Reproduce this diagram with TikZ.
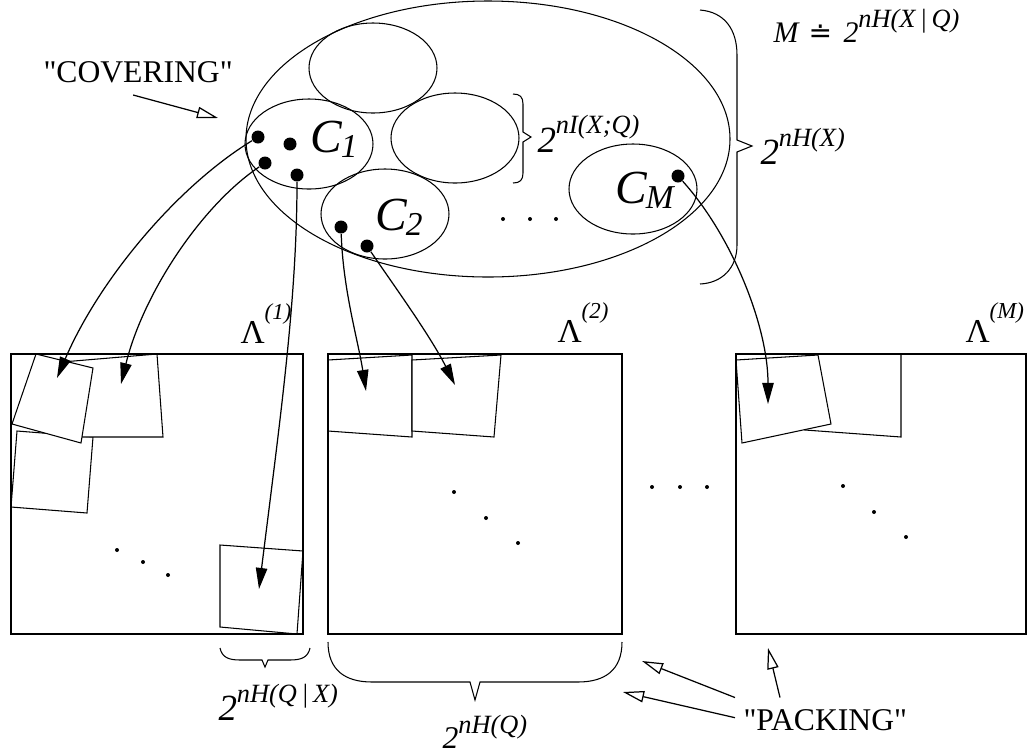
\documentclass[tikz,border=0pt]{standalone}
\usepackage{fontspec}
\setmainfont{Liberation Serif}
\newfontfamily\symfont{DejaVu Sans}
\usetikzlibrary{arrows.meta,positioning,calc}
\newcommand{\pw}[2][10pt]{\textit{2}\raisebox{#1}{\fontsize{15}{15}\selectfont\itshape #2}}
\newcommand{\lam}[1]{Λ\raisebox{13.5pt}{\fontsize{13}{13}\selectfont\itshape #1}}
\newcommand{\cset}[1]{\textit{C}\kern-1pt\raisebox{-3pt}{\fontsize{19}{19}\selectfont\itshape #1}}
\newcommand{\quoted}[1]{\textquotedbl#1\textquotedbl}

\begin{document}
\begin{tikzpicture}[x=0.02cm,y=-0.02cm,line width=0.6pt,
    txt/.style={inner sep=0pt,anchor=base west},
    dot/.style={circle,fill,inner sep=0pt,minimum size=7.4pt},
    code/.style={draw,line width=0.6pt},
    lattice/.style={draw,line width=0.9pt},
    tile/.style={draw,fill=white,line width=0.6pt},
    brc/.style={draw,line width=0.6pt},
    maps/.style={line width=0.7pt,-{Triangle[length=12pt,width=6.5pt]}},
    hint/.style={line width=0.7pt,-{Triangle[open,length=12pt,width=6.5pt]}}]
  \useasboundingbox (0,0) rectangle (1028,755);

  \draw[code] (488,139) ellipse [x radius=242,y radius=138];
  \foreach \cx/\cy in {373/68,309/144,455/138,385/214,633/189}
    \draw[code] (\cx,\cy) ellipse [x radius=64,y radius=45];

  \draw[tile] (17,431) -- (93,437) -- (87,513) -- (11,507) -- cycle;
  \draw[tile] (62,362) -- (157,354) -- (163,437) -- (82,437) -- cycle;
  \draw[tile] (36,354) -- (93,368) -- (81,443) -- (12,424) -- cycle;
  \draw[tile] (220,545) -- (303,551) -- (297,634) -- (220,627) -- cycle;
  \draw[tile] (328,360) -- (412,355) -- (412,437) -- (328,431) -- cycle;
  \draw[tile] (412,360) -- (501,355) -- (494,437) -- (412,431) -- cycle;
  \draw[tile] (810,354) -- (901,354) -- (901,437) -- (805,430) -- cycle;
  \draw[tile] (736,360) -- (818,355) -- (831,424) -- (742,443) -- cycle;

  \foreach \bx/\bw in {11/292,328/294,736/290}
    \draw[lattice] (\bx,354) rectangle ++(\bw,280);

  \foreach \px/\py in {117/550,143/562,168/575,454/492,486/518,518/543,843/486,874/512,906/537,
      652/487,680/487,707/487,503/219,530/219,556/219}
    \fill (\px,\py) circle (2);

  \node[dot] (x1) at (258,137) {};
  \node[dot] (x2) at (290,144) {};
  \node[dot] (x3) at (265,163) {};
  \node[dot] (x4) at (297,175) {};
  \node[dot] (y1) at (341,227) {};
  \node[dot] (y2) at (367,246) {};
  \node[dot] (z1) at (678,176) {};

  \coordinate (t1) at (57,378);
  \coordinate (t2) at (121,384);
  \coordinate (t3) at (259,589);
  \coordinate (t4) at (366,391);
  \coordinate (t5) at (455,385);
  \coordinate (t6) at (768,404);

  \draw[maps] (x1) .. controls (178,186) and (100,278) .. (t1);
  \draw[maps] (x3) .. controls (201,206) and (143,294) .. (t2);
  \draw[maps] (x4) .. controls (297,300) and (280,420) .. (t3);
  \draw[maps] (y1) .. controls (343,290) and (358,340) .. (t4);
  \draw[maps] (y2) .. controls (390,280) and (430,335) .. (t5);
  \draw[maps] (z1) .. controls (732,236) and (768,326) .. (t6);

  \node[txt,font=\fontsize{27}{30}\selectfont] (c1) at (310,152) {\cset{1}};
  \node[txt,font=\fontsize{27}{30}\selectfont] (c2) at (375,230) {\cset{2}};
  \node[txt,font=\fontsize{27}{30}\selectfont] (cM) at (615,203) {\cset{M}};

  \node[txt,font=\fontsize{19}{20}\selectfont] (l1) at (240,343) {\lam{(1)}};
  \node[txt,font=\fontsize{19}{20}\selectfont] (l2) at (557,342) {\lam{(2)}};
  \node[txt,font=\fontsize{19}{20}\selectfont] (lM) at (965,342) {\lam{(M)}};

  \draw[brc] (513,94) .. controls (520,94) and (523,97) .. (523,104) -- (523,132) -- (531,137)
    -- (523,142) -- (523,173) .. controls (523,180) and (520,183) .. (513,183);
  \draw[brc] (700,10) .. controls (725,12) and (737,30) .. (737,55) -- (737,140) -- (752,146)
    -- (737,152) -- (737,245) .. controls (737,268) and (722,283) .. (700,284);
  \draw[brc] (220,648) .. controls (222,657) and (228,660) .. (240,660) -- (262,660) -- (265,667)
    -- (268,660) -- (290,660) .. controls (302,660) and (308,657) .. (310,648);
  \draw[brc] (328,642) .. controls (328,670) and (345,682) .. (372,682) -- (470,682) -- (475,700)
    -- (480,682) -- (578,682) .. controls (605,682) and (622,670) .. (622,642);

  \node[txt,font=\fontsize{21}{24}\selectfont] (ixq) at (537,152) {\pw[10.8pt]{nI(X;Q)}};
  \node[txt,font=\fontsize{21}{24}\selectfont] (hx) at (760,164) {\pw{nH(X)}};
  \node[txt,font=\fontsize{17}{20}\selectfont] (mm) at (773,42) {\textit{M}};
  \node[txt,font=\fontsize{16}{20}\symfont] (eq) at (808,42) {≐};
  \node[txt,font=\fontsize{17}{20}\selectfont] (hxq) at (843,42) {\pw[8.5pt]{nH(X\,|\,Q)}};
  \node[txt,font=\fontsize{21}{24}\selectfont] (hqx) at (218,720) {\pw{nH(Q\,|\,X)}};
  \node[txt,font=\fontsize{18}{20}\selectfont] (hq) at (442,748) {\pw[8.5pt]{nH(Q)}};

  \node[txt,font=\fontsize{18}{20}\selectfont] (cov) at (43,82) {\quoted{COVERING}};
  \node[txt,font=\fontsize{18}{20}\selectfont] (pak) at (743,730) {\quoted{PACKING}};

  \coordinate (q0) at (218,118);
  \coordinate (q1) at (642,661);
  \coordinate (q2) at (623,692);
  \coordinate (q3) at (768,648);
  \draw[hint] ([shift={(-5,12)}]cov.south) -- (q0);
  \draw[hint] ([shift={(-8,-11)}]pak.north west) -- (q1);
  \draw[hint] ([shift={(-8,-2)}]pak.west) -- (q2);
  \draw[hint] ([shift={(37,-11)}]pak.north west) -- (q3);
\end{tikzpicture}
\end{document}
